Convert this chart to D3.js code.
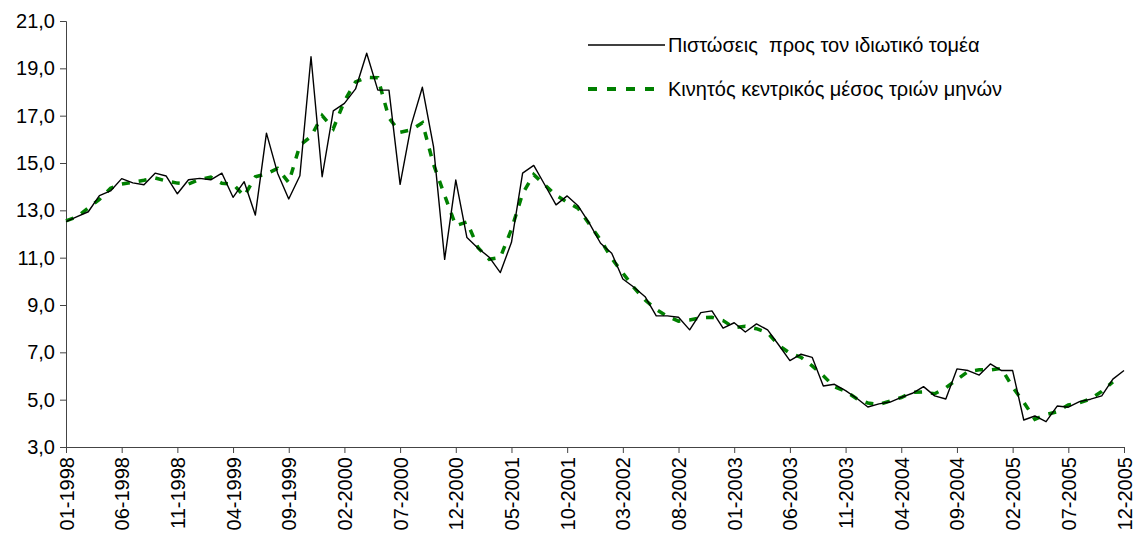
<!DOCTYPE html>
<html>
<head>
<meta charset="utf-8">
<script src="https://cdn.jsdelivr.net/npm/d3@7"></script>
<style>
  body { margin:0; background:#fff; }
  svg text { font-family: "Liberation Sans", Arial, sans-serif; fill:#000; }
</style>
</head>
<body>
<div id="chart"></div>
<script>
// monthly data 01-1998 .. 12-2005
var credit = [12.52,12.73,12.94,13.62,13.82,14.34,14.16,14.08,14.57,14.45,13.70,14.29,
  14.35,14.29,14.57,13.55,14.21,12.80,16.26,14.57,13.48,14.46,19.49,14.42,
  17.20,17.52,18.13,19.64,18.08,18.08,14.10,16.61,18.20,15.69,10.93,14.28,
  11.85,11.40,11.02,10.37,11.65,14.57,14.90,14.07,13.23,13.61,13.18,12.45,
  11.61,11.19,10.10,9.75,9.35,8.54,8.54,8.48,7.95,8.68,8.75,8.02,
  8.25,7.86,8.20,7.95,7.31,6.65,6.92,6.79,5.58,5.65,5.38,5.06,
  4.69,4.82,4.90,5.10,5.27,5.55,5.16,5.03,6.30,6.23,6.04,6.51,
  6.23,6.23,4.14,4.31,4.07,4.73,4.68,4.92,5.02,5.16,5.87,6.23];

var movAvg = [12.55,12.73,13.10,13.46,13.93,14.11,14.19,14.27,14.37,14.24,14.15,14.11,
  14.31,14.40,14.14,14.11,13.60,14.42,14.54,14.77,14.17,15.75,16.12,17.00,
  16.45,17.62,18.43,18.62,18.60,16.90,16.30,16.40,16.70,14.94,13.63,12.35,
  12.51,11.42,10.93,11.01,12.20,13.71,14.51,14.07,13.64,13.34,13.08,12.41,
  11.75,10.97,10.35,9.73,9.21,8.81,8.52,8.32,8.37,8.46,8.48,8.34,
  8.04,8.10,8.00,7.82,7.30,6.96,6.79,6.43,6.01,5.54,5.36,5.04,
  4.86,4.80,4.94,5.09,5.31,5.33,5.25,5.50,5.85,6.19,6.26,6.26,
  6.32,5.53,4.89,4.17,4.37,4.49,4.78,4.87,5.03,5.35,5.75,null];

var yTicks = [3,5,7,9,11,13,15,17,19,21];
var legendNames = ["Πιστώσεις  προς τον ιδιωτικό τομέα", "Κινητός κεντρικός μέσος τριών μηνών"];

var months = [];
for (var i = 0; i < credit.length; i++) {
  var m = (i % 12) + 1, yr = 1998 + Math.floor(i / 12);
  months.push((m < 10 ? "0" + m : "" + m) + "-" + yr);
}

var W = 1137, H = 539;
var plotL = 66, plotR = 1124, plotT = 21, plotB = 447;

var svg = d3.select("#chart").append("svg").attr("width", W).attr("height", H);

var x = d3.scalePoint().domain(months).range([plotL, plotR]);
var y = d3.scaleLinear().domain([3, 21]).range([plotB, plotT]);

var fmt = function(d){ return d3.format(".1f")(d).replace(".", ","); };

var yAxis = svg.append("g")
  .attr("transform", "translate(" + plotL + ",0)")
  .call(d3.axisLeft(y).tickValues(yTicks).tickSize(6).tickPadding(5).tickFormat(fmt));
yAxis.selectAll("text").style("font-size", "20px");

var xAxis = svg.append("g")
  .attr("transform", "translate(0," + plotB + ")")
  .call(d3.axisBottom(x).tickValues(months.filter(function(d,i){ return i % 5 == 0; })).tickSize(6).tickSizeOuter(0));
xAxis.selectAll("text")
  .style("font-size", "20px")
  .attr("transform", "rotate(-90)")
  .attr("text-anchor", "end")
  .attr("x", -10).attr("y", 0).attr("dy", "0.35em");

svg.selectAll(".domain, .tick line").attr("stroke", "#444");

var line = d3.line()
  .defined(function(d){ return d[1] != null; })
  .x(function(d){ return x(months[d[0]]); })
  .y(function(d){ return y(d[1]); });

svg.append("path")
  .attr("d", line(movAvg.map(function(v,i){ return [i, v]; })))
  .attr("fill", "none").attr("stroke", "#008000")
  .attr("stroke-width", 3.5).attr("stroke-dasharray", "8,9");

svg.append("path")
  .attr("d", line(credit.map(function(v,i){ return [i, v]; })))
  .attr("fill", "none").attr("stroke", "#000")
  .attr("stroke-width", 1.4).attr("stroke-linejoin", "round");

// legend
var lg = svg.append("g");
lg.append("line").attr("x1", 588).attr("x2", 665).attr("y1", 45).attr("y2", 45)
  .attr("stroke", "#000").attr("stroke-width", 1.4);
lg.append("text").attr("x", 668).attr("y", 52).style("font-size", "20px").style("white-space", "pre")
  .attr("xml:space", "preserve").text(legendNames[0]);
lg.append("line").attr("x1", 588).attr("x2", 654).attr("y1", 89).attr("y2", 89)
  .attr("stroke", "#008000").attr("stroke-width", 4).attr("stroke-dasharray", "9,10");
lg.append("text").attr("x", 668).attr("y", 96).style("font-size", "20px").text(legendNames[1]);
</script>
</body>
</html>
